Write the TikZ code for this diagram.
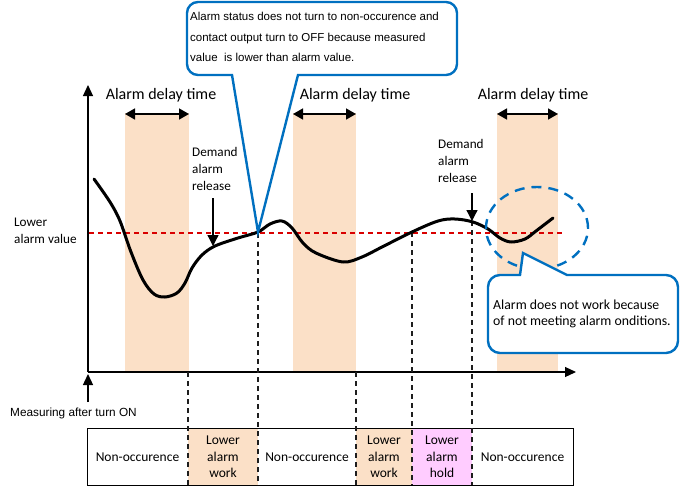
\documentclass[tikz,border=0pt]{standalone}
\usepackage{fontspec}
\setmainfont{Carlito}
\newfontfamily\arialfont{Liberation Sans}
\usetikzlibrary{arrows.meta,shapes.geometric}
\definecolor{bandcol}{RGB}{251,224,199}
\definecolor{pinkcol}{RGB}{255,204,255}
\definecolor{calloutblue}{RGB}{0,112,192}
\definecolor{dashgray}{RGB}{30,30,30}
\tikzset{
  band/.style={fill=bandcol, draw=none},
  axisline/.style={line width=1.2pt, -{Triangle[length=11pt,width=10pt]}},
  delayarrow/.style={line width=1.6pt, {Triangle[length=10pt,width=11pt]}-{Triangle[length=10pt,width=11pt]}},
  delaytext/.style={font=\fontsize{16}{19}\selectfont, inner sep=0pt},
  smalltext/.style={font=\fontsize{13.2}{17}\selectfont, inner sep=0pt, align=left},
  tabletext/.style={font=\fontsize{13.5}{16.7}\selectfont, inner sep=0pt, align=center},
  vdash/.style={dashgray, line width=1.3pt, dash pattern=on 5pt off 4pt},
  reddash/.style={red!85!black, line width=1.1pt, dash pattern=on 5pt off 4pt},
  callout/.style={calloutblue, line width=2.4pt, fill=white, line join=miter},
  curve/.style={line width=3pt, line cap=round, line join=round},
  releasearrow/.style={line width=1.3pt, -{Triangle[length=11pt,width=11pt]}},
}
\begin{document}
\begin{tikzpicture}[x=1pt,y=-1pt]
\useasboundingbox (0,0) rectangle (691,490);
% bands
\fill[band] (125,113) rectangle (189,371);
\fill[band] (293,113) rectangle (356,371);
\fill[band] (497,113) rectangle (558,371);
% table cells
\fill[bandcol] (188,428) rectangle (258,485);
\fill[bandcol] (356,428) rectangle (412,485);
\fill[pinkcol] (412,428) rectangle (472,485);
\draw[line width=1pt] (87,428) rectangle (573,485);
% red alarm line
\coordinate (redL) at (89,233);
\coordinate (redR) at (565,233);
\draw[reddash] (redL) -- (redR);
% axes
\coordinate (origin) at (88,372);
\coordinate (ytip) at (88,85);
\coordinate (xtip) at (576,372);
\draw[axisline] (origin) -- (ytip);
\draw[axisline] (origin) -- (xtip);
\coordinate (mstart) at (88,402);
\coordinate (mtip) at (88,374);
\draw[line width=1.3pt, -{Triangle[length=11pt,width=10pt]}] (mstart) -- (mtip);
% dashed verticals
\coordinate (v1t) at (188,372); \coordinate (v1b) at (188,485);
\coordinate (v2t) at (258,233); \coordinate (v2b) at (258,485);
\coordinate (v3t) at (356,372); \coordinate (v3b) at (356,485);
\coordinate (v4t) at (412,232); \coordinate (v4b) at (412,485);
\coordinate (v5t) at (472,221); \coordinate (v5b) at (472,485);
\draw[vdash] (v1t) -- (v1b);
\draw[vdash] (v2t) -- (v2b);
\draw[vdash] (v3t) -- (v3b);
\draw[vdash] (v4t) -- (v4b);
\draw[vdash] (v5t) -- (v5b);
% delay arrows
\coordinate (a1l) at (125,114); \coordinate (a1r) at (189,114);
\coordinate (a2l) at (293,114); \coordinate (a2r) at (356,114);
\coordinate (a3l) at (497,114); \coordinate (a3r) at (558,114);
\draw[delayarrow] (a1l) -- (a1r);
\draw[delayarrow] (a2l) -- (a2r);
\draw[delayarrow] (a3l) -- (a3r);
\node[delaytext] (dt1) at (161,95) {Alarm delay time};
\node[delaytext] (dt2) at (355,95) {Alarm delay time};
\node[delaytext] (dt3) at (533,95) {Alarm delay time};
% curve
\draw[curve] plot[smooth, tension=0.55] coordinates {
(94,179) (110,202) (120,221) (131,252) (143,280) (154,294) (165,297) (177,293) (185,283) (192,268) (202,255) (215,246) (238,238) (258,232)
(270,224) (282,221) (292,228) (303,243) (316,253) (343,262) (362,257) (382,247) (412,232) (438,221) (455,219) (473,222) (488,229) (500,238) (511,242) (525,239) (536,231) (553,218)};
% lower alarm value label
\node[smalltext, anchor=west] (lav) at (14,231) {Lower\\alarm value};
% demand alarm release
\node[smalltext, anchor=north west] (dar1) at (192,147) {Demand\\alarm\\release};
\coordinate (r1s) at (213,198); \coordinate (r1e) at (213,246);
\draw[releasearrow] (r1s) -- (r1e);
\node[smalltext, anchor=north west] (dar2) at (438,139) {Demand\\alarm\\release};
\coordinate (r2s) at (472,193); \coordinate (r2e) at (472,221);
\draw[releasearrow] (r2s) -- (r2e);
% dashed ellipse
\node[draw=calloutblue, line width=2.4pt, dash pattern=on 10pt off 7pt, ellipse, minimum width=102pt, minimum height=82pt, inner sep=0pt] (ell) at (537,228) {};
% top callout
\coordinate (tip1) at (258,232);
\draw[callout] (232,75) -- (tip1) -- (298,75) [rounded corners=11pt] -- (457,75) -- (457,2) -- (187,2) -- (187,75) [sharp corners] -- cycle;
\node[font=\arialfont\fontsize{11.5}{20.5}\selectfont, anchor=west, align=left, inner sep=0pt] (ct1) at (190,37) {Alarm status does not turn to non-occurence and\\contact output turn to OFF because measured\\value\ \ is lower than alarm value.};
% bottom callout
\coordinate (tip2) at (523,253);
\draw[callout] (520,275) -- (tip2) -- (567,275) [rounded corners=12pt] -- (678,275) -- (678,353) -- (488,353) -- (488,275) [sharp corners] -- cycle;
\node[font=\fontsize{13.8}{15.5}\selectfont, anchor=west, align=left, inner sep=0pt] (ct2) at (493,314) {Alarm does not work because\\of not meeting alarm onditions.};
% measuring text
\node[font=\arialfont\fontsize{11.8}{14}\selectfont, anchor=west, inner sep=0pt] (meas) at (10,413) {Measuring after turn ON};
% table texts
\node[tabletext] (c1) at (137.5,457) {Non-occurence};
\node[tabletext] (c2) at (223,457) {Lower\\alarm\\work};
\node[tabletext] (c3) at (307,457) {Non-occurence};
\node[tabletext] (c4) at (384,457) {Lower\\alarm\\work};
\node[tabletext] (c5) at (442,457) {Lower\\alarm\\hold};
\node[tabletext] (c6) at (522.5,457) {Non-occurence};
\end{tikzpicture}
\end{document}
